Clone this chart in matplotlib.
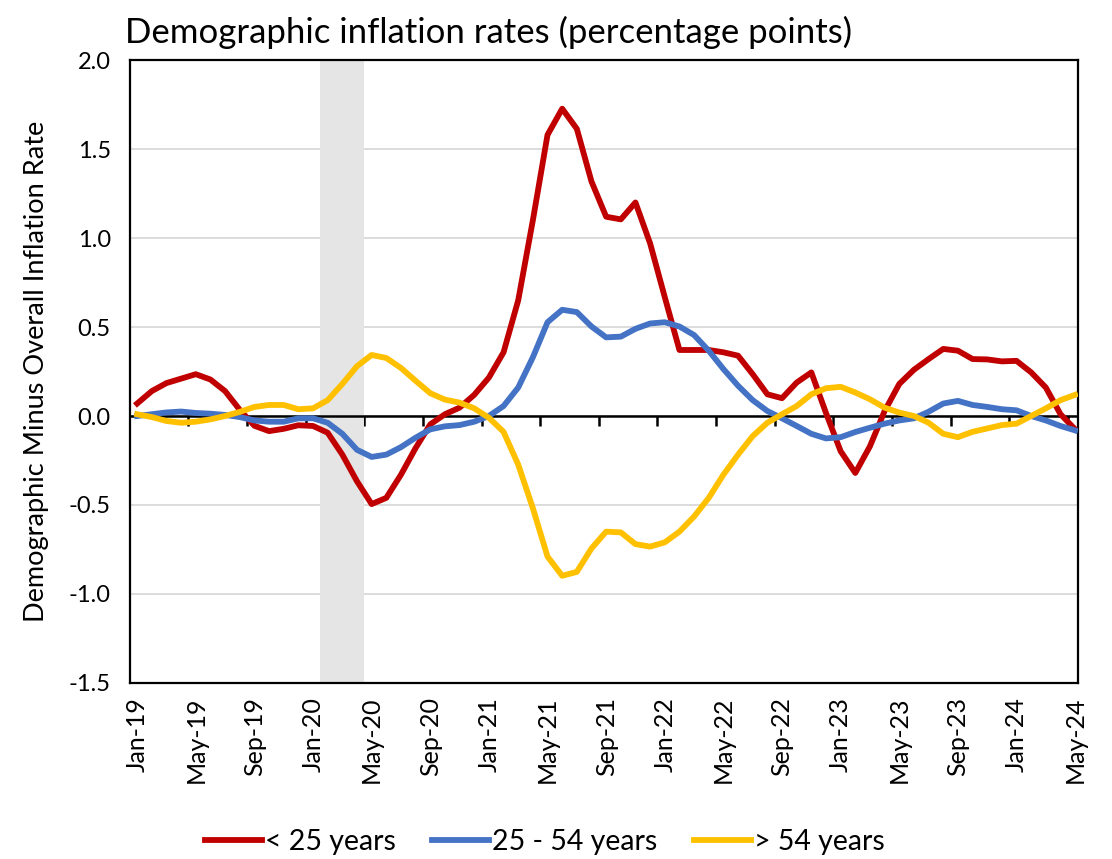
import matplotlib
matplotlib.use("Agg")
import matplotlib.pyplot as plt
import numpy as np

plt.rcParams['font.family'] = ['Lato', 'DejaVu Sans']

# monthly data, Jan-19 .. May-24
under25 = [0.07, 0.14, 0.185, 0.21, 0.235, 0.205, 0.14, 0.035, -0.055, -0.085,
           -0.072, -0.052, -0.056, -0.094, -0.217, -0.367, -0.495, -0.46, -0.33, -0.18,
           -0.047, 0.01, 0.047, 0.119, 0.216, 0.358, 0.65, 1.10, 1.58, 1.727,
           1.614, 1.318, 1.12, 1.105, 1.20, 0.97, 0.668, 0.371, 0.371, 0.371,
           0.358, 0.339, 0.235, 0.122, 0.10, 0.188, 0.245, 0.017, -0.198, -0.32,
           -0.17, 0.028, 0.18, 0.26, 0.32, 0.377, 0.367, 0.32, 0.318, 0.307,
           0.31, 0.245, 0.16, 0.01, -0.075]
mid25_54 = [0.0, 0.01, 0.02, 0.025, 0.017, 0.013, 0.006, -0.006, -0.025, -0.032,
            -0.032, -0.013, -0.013, -0.038, -0.10, -0.19, -0.23, -0.217, -0.175, -0.122,
            -0.075, -0.058, -0.051, -0.032, 0.0, 0.056, 0.16, 0.33, 0.527, 0.597,
            0.584, 0.503, 0.442, 0.446, 0.49, 0.52, 0.527, 0.503, 0.455, 0.367,
            0.264, 0.17, 0.089, 0.028, -0.013, -0.056, -0.10, -0.126, -0.119, -0.09,
            -0.066, -0.043, -0.025, -0.013, 0.024, 0.07, 0.085, 0.062, 0.051, 0.038,
            0.032, 0.0, -0.025, -0.056, -0.081]
over54 = [0.01, -0.006, -0.028, -0.038, -0.032, -0.019, 0.0, 0.023, 0.051, 0.062,
          0.062, 0.038, 0.043, 0.089, 0.18, 0.28, 0.343, 0.326, 0.27, 0.198,
          0.128, 0.092, 0.075, 0.043, -0.01, -0.089, -0.273, -0.518, -0.79, -0.898,
          -0.876, -0.744, -0.65, -0.654, -0.72, -0.734, -0.71, -0.65, -0.565, -0.46,
          -0.33, -0.217, -0.113, -0.038, 0.01, 0.056, 0.122, 0.156, 0.164, 0.132,
          0.094, 0.047, 0.019, 0.0, -0.038, -0.10, -0.119, -0.089, -0.07, -0.051,
          -0.043, 0.0, 0.043, 0.089, 0.119]

tick_labels = ['Jan-19', 'May-19', 'Sep-19', 'Jan-20', 'May-20', 'Sep-20', 'Jan-21',
               'May-21', 'Sep-21', 'Jan-22', 'May-22', 'Sep-22', 'Jan-23', 'May-23',
               'Sep-23', 'Jan-24', 'May-24']
recession = (12.5, 15.5)   # Feb-20 .. Apr-20

x = np.arange(len(under25))

fig = plt.figure(figsize=(11.12, 8.59), dpi=100)
ax = fig.add_axes([0.117, 0.205, 0.8525, 0.725])

ax.axvspan(recession[0], recession[1], color='#e5e5e5', lw=0, zorder=1)
ax.axhline(0, color='black', lw=1.8, zorder=2)
ax.plot(x, under25, color='#C00000', lw=4.2, label='< 25 years', zorder=3)
ax.plot(x, mid25_54, color='#4472C4', lw=4.2, label='25 - 54 years', zorder=3)
ax.plot(x, over54, color='#FFC000', lw=4.2, label='> 54 years', zorder=3)

ax.set_xlim(-0.48, 64.2)
ax.set_ylim(-1.5, 2.0)
ax.set_yticks(np.arange(-1.5, 2.01, 0.5))
ax.set_yticklabels(['%.1f' % v for v in np.arange(-1.5, 2.01, 0.5)], fontsize=17)
ax.yaxis.grid(True, color='#d9d9d9', lw=1.3, zorder=0)
ax.set_axisbelow(True)
ax.tick_params(axis='y', length=0, pad=14)

ax.set_xticks(x[::4])
ax.set_xticklabels(tick_labels, rotation=90, fontsize=18)
ax.tick_params(axis='x', length=0, pad=10)

for s in ax.spines.values():
    s.set_color('black')
    s.set_linewidth(1.6)

# tick marks on the zero line, between the labelled months
zero = ax.secondary_xaxis(1.5 / 3.5)
zero.set_xticks(np.arange(3.5, 64, 4))
zero.set_xticklabels([])
zero.tick_params(axis='x', direction='out', length=7, width=1.8, color='black')
zero.spines['bottom'].set_visible(False)

ax.set_ylabel('Demographic Minus Overall Inflation Rate', fontsize=19.5, labelpad=14)
ax.set_title('Demographic inflation rates (percentage points)', fontsize=25,
             loc='left', x=-0.005, pad=12)

fig.legend(loc='lower center', bbox_to_anchor=(0.49, -0.025), ncol=3, frameon=False,
           fontsize=20.5, handlelength=2.0, handletextpad=0.1, columnspacing=1.3)

fig.savefig('out.png', dpi=100)
